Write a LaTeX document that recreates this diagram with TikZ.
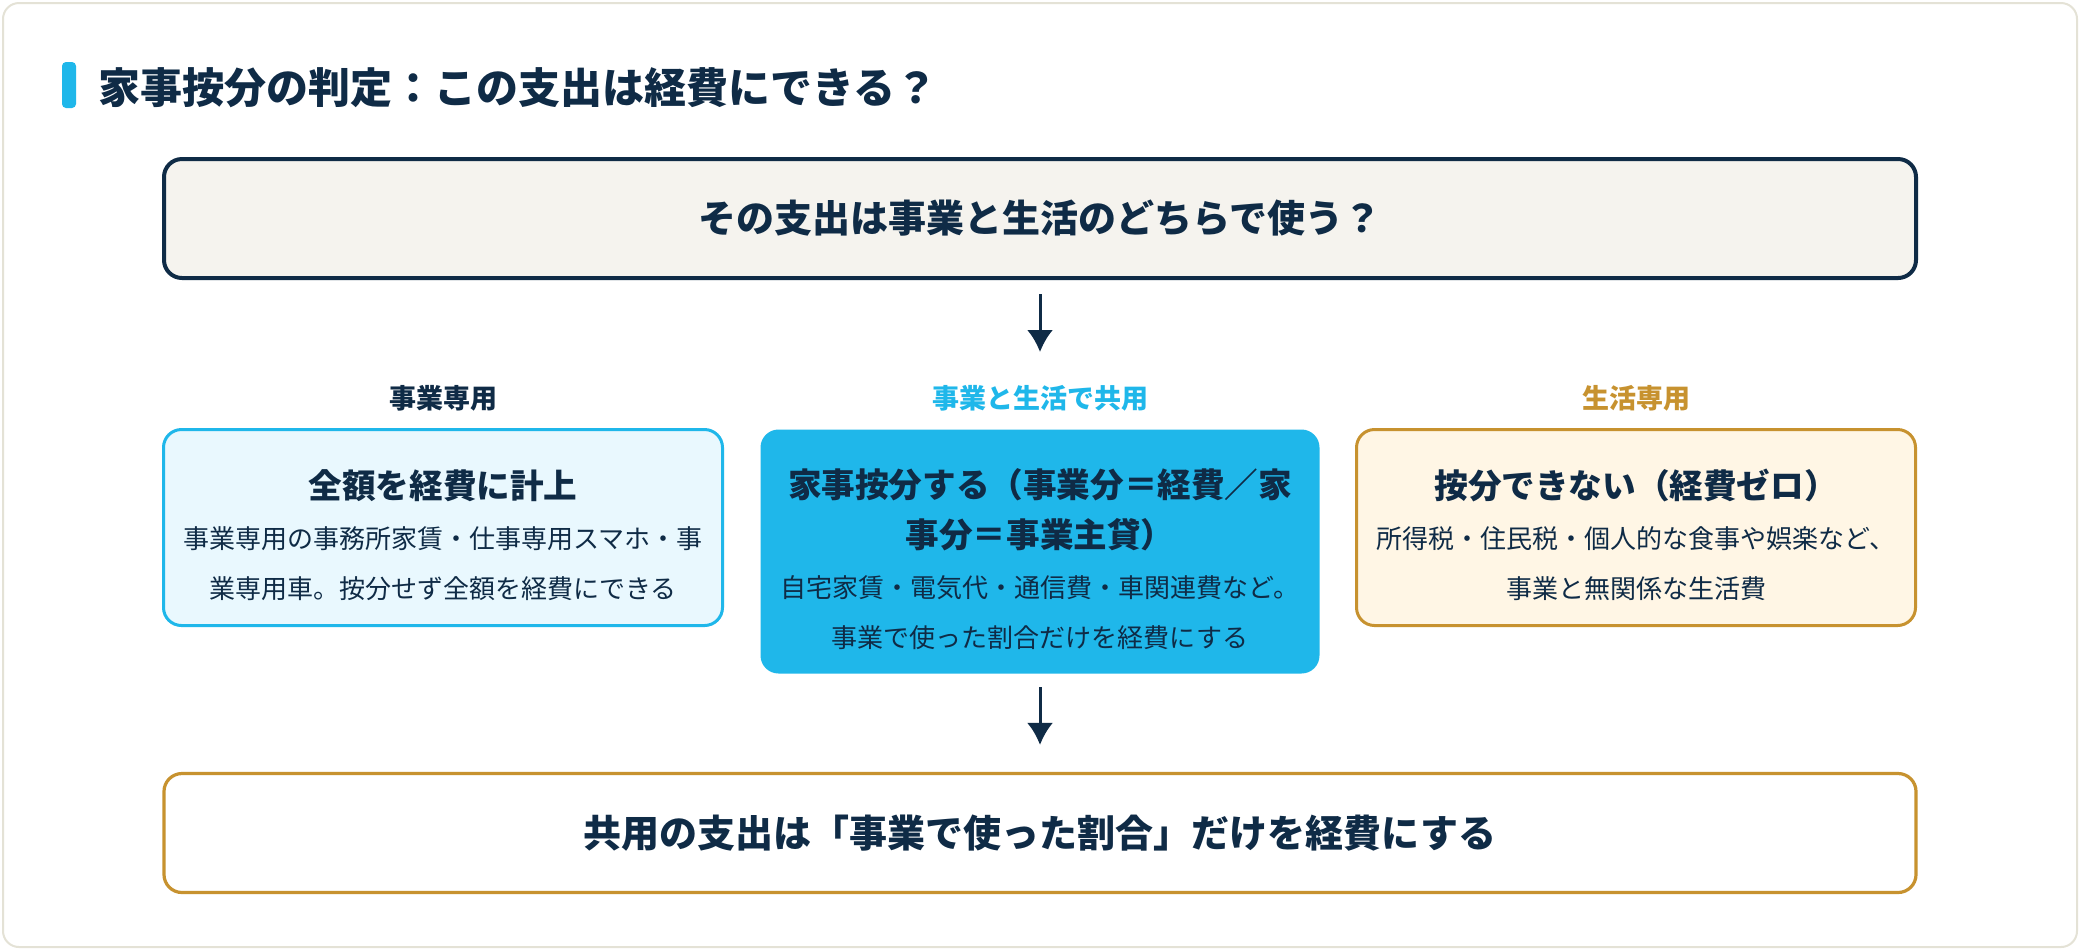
\documentclass[tikz,border=0pt]{standalone}
\usepackage{fontspec}
\setmainfont{Noto Sans CJK JP}
\usetikzlibrary{shapes,arrows.meta}
\usetikzlibrary{positioning}

\definecolor{navy}{HTML}{0F2B46}
\definecolor{sky}{HTML}{1FB7EA}
\definecolor{gold}{HTML}{C7922F}
\definecolor{paper}{HTML}{F5F3EE}
\definecolor{skylight}{HTML}{E9F8FE}
\definecolor{cream}{HTML}{FFF6E5}
\definecolor{rim}{HTML}{E4E2D6}

\newcommand{\boxhead}{\bfseries\fontsize{16.8}{25}\selectfont}
\newcommand{\topgap}{\rule{0pt}{22pt}}

\tikzstyle{wide} = [
        rectangle, rounded corners=9pt,
        draw=navy, line width=2pt, fill=paper,
        minimum width=876pt, minimum height=59.5pt,
        text=navy, font=\bfseries\fontsize{19}{22}\selectfont
    ]
\tikzstyle{choice} = [
        rectangle, rounded corners=9pt, line width=1.5pt,
        minimum width=279.5pt, minimum height=98pt,
        align=center, text=navy, font=\fontsize{13}{25}\selectfont
    ]
\tikzstyle{tag} = [font=\bfseries\fontsize{13.5}{16}\selectfont, inner sep=0pt]
\tikzstyle{line} = [draw=navy, line width=1.5pt, -{Latex[length=11pt,width=13pt]}]

\begin{document}
\begin{tikzpicture}[x=0.5pt, y=-0.5pt]
    \path [use as bounding box] (0,0) rectangle (2080,950);
    \draw [rim, line width=1pt, fill=white, rounded corners=8pt] (3,3) rectangle (2077,947);

    \node [fill=sky, rounded corners=2pt, inner sep=0pt,
           minimum width=7pt, minimum height=23pt] (accent) at (69,85) {};
    \node [right=11pt of accent, yshift=-1.5pt, inner sep=0pt, text=navy,
           font=\bfseries\fontsize{21}{24}\selectfont] (title) {家事按分の判定：この支出は経費にできる？};

    \node [wide] (question) at (1040,218.5) {その支出は事業と生活のどちらで使う？};

    \node [choice, draw=sky, fill=skylight] (bizonly) at (443,527.5)
        {\topgap{\boxhead 全額を経費に計上}\\
         事業専用の事務所家賃・仕事専用スマホ・事\\
         業専用車。按分せず全額を経費にできる};
    \node [choice, fill=sky, minimum height=122pt] (shared) at (1040,551.5)
        {\topgap{\boxhead 家事按分する（事業分＝経費／家}\\
         {\boxhead 事分＝事業主貸）}\\
         自宅家賃・電気代・通信費・車関連費など。\\
         事業で使った割合だけを経費にする};
    \node [choice, draw=gold, fill=cream] (lifeonly) at (1636,527.5)
        {\topgap{\boxhead 按分できない（経費ゼロ）}\\
         所得税・住民税・個人的な食事や娯楽など、\\
         事業と無関係な生活費};

    \node [tag, text=navy, above=8pt of bizonly] (bizlbl) {事業専用};
    \node [tag, text=sky, above=8pt of shared] (sharedlbl) {事業と生活で共用};
    \node [tag, text=gold, above=8pt of lifeonly] (lifelbl) {生活専用};

    \node [wide, draw=gold, fill=white, line width=1.6pt] (result) at (1040,833)
        {共用の支出は「事業で使った割合」だけを経費にする};

    \path [line, shorten <=7pt, shorten >=38pt] (question) -- (shared);
    \path [line, shorten <=6pt, shorten >=13.5pt] (shared) -- (result);
\end{tikzpicture}
\end{document}
